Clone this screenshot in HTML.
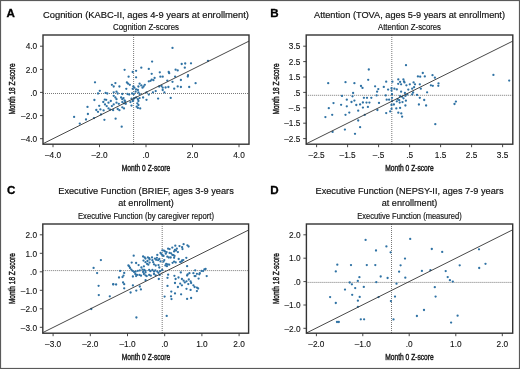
<!DOCTYPE html><html><head><meta charset="utf-8"><style>
html,body{margin:0;padding:0;background:#fff;}
svg{display:block;filter:blur(0.25px);font-family:"Liberation Sans", sans-serif;}
.t{stroke:#111;stroke-width:0.18px;} .s{stroke:#111;stroke-width:0.15px;} .k{stroke:#111;stroke-width:0.1px;} .L{stroke:#000;stroke-width:0.3px;} .ax{stroke:#1a1a1a;stroke-width:0.45px;}
</style></head><body>
<svg width="520" height="369" viewBox="0 0 520 369">
<rect x="0" y="0" width="520" height="369" fill="#fff"/>
<text class="L" x="6.6" y="17.0" font-size="11.6" text-anchor="start" font-weight="bold" fill="#000">A</text>
<text class="t" x="146" y="17.5" font-size="9.7" text-anchor="middle" font-weight="normal" fill="#111" textLength="206" lengthAdjust="spacingAndGlyphs">Cognition (KABC-II, ages 4-9 years at enrollment)</text>
<text class="s" x="146" y="29.7" font-size="8.4" text-anchor="middle" font-weight="normal" fill="#111" textLength="66" lengthAdjust="spacingAndGlyphs">Cognition Z-scores</text>
<line x1="43" y1="93.5" x2="249" y2="93.5" stroke="#555" stroke-width="0.8" stroke-dasharray="1 1"/>
<line x1="133.6" y1="35" x2="133.6" y2="144.2" stroke="#555" stroke-width="0.8" stroke-dasharray="1 1"/>
<g fill="#2f72a4">
<circle cx="172.5" cy="47.9" r="1.15"/>
<circle cx="152.1" cy="61.6" r="1.15"/>
<circle cx="124.6" cy="69.8" r="1.15"/>
<circle cx="132.7" cy="72.0" r="1.15"/>
<circle cx="136.1" cy="70.8" r="1.15"/>
<circle cx="141.3" cy="67.7" r="1.15"/>
<circle cx="148.8" cy="68.9" r="1.15"/>
<circle cx="151.7" cy="73.8" r="1.15"/>
<circle cx="159.8" cy="72.3" r="1.15"/>
<circle cx="168.7" cy="72.0" r="1.15"/>
<circle cx="169.2" cy="73.2" r="1.15"/>
<circle cx="175.6" cy="69.7" r="1.15"/>
<circle cx="177.7" cy="70.4" r="1.15"/>
<circle cx="181.7" cy="64.0" r="1.15"/>
<circle cx="185.2" cy="63.5" r="1.15"/>
<circle cx="191.0" cy="63.3" r="1.15"/>
<circle cx="184.8" cy="67.7" r="1.15"/>
<circle cx="208.0" cy="60.8" r="1.15"/>
<circle cx="188.0" cy="75.2" r="1.15"/>
<circle cx="95.0" cy="82.3" r="1.15"/>
<circle cx="99.8" cy="90.8" r="1.15"/>
<circle cx="98.0" cy="93.5" r="1.15"/>
<circle cx="94.4" cy="100.0" r="1.15"/>
<circle cx="104.8" cy="99.6" r="1.15"/>
<circle cx="103.3" cy="102.0" r="1.15"/>
<circle cx="99.2" cy="105.8" r="1.15"/>
<circle cx="87.5" cy="106.9" r="1.15"/>
<circle cx="96.3" cy="110.0" r="1.15"/>
<circle cx="100.4" cy="109.4" r="1.15"/>
<circle cx="103.6" cy="110.4" r="1.15"/>
<circle cx="175.1" cy="76.6" r="1.15"/>
<circle cx="165.6" cy="87.5" r="1.15"/>
<circle cx="168.4" cy="87.0" r="1.15"/>
<circle cx="167.3" cy="80.6" r="1.15"/>
<circle cx="172.5" cy="81.8" r="1.15"/>
<circle cx="174.2" cy="88.7" r="1.15"/>
<circle cx="177.7" cy="86.4" r="1.15"/>
<circle cx="170.7" cy="97.9" r="1.15"/>
<circle cx="187.8" cy="76.6" r="1.15"/>
<circle cx="180.9" cy="80.0" r="1.15"/>
<circle cx="195.6" cy="83.2" r="1.15"/>
<circle cx="180.9" cy="87.0" r="1.15"/>
<circle cx="189.2" cy="87.0" r="1.15"/>
<circle cx="74.1" cy="116.9" r="1.15"/>
<circle cx="87.9" cy="114.0" r="1.15"/>
<circle cx="86.0" cy="119.5" r="1.15"/>
<circle cx="79.8" cy="123.6" r="1.15"/>
<circle cx="94.0" cy="118.1" r="1.15"/>
<circle cx="104.4" cy="119.8" r="1.15"/>
<circle cx="115.6" cy="118.7" r="1.15"/>
<circle cx="101.0" cy="114.4" r="1.15"/>
<circle cx="98.0" cy="111.8" r="1.15"/>
<circle cx="121.7" cy="126.7" r="1.15"/>
<circle cx="128.6" cy="76.7" r="1.15"/>
<circle cx="136.1" cy="77.3" r="1.15"/>
<circle cx="111.9" cy="84.8" r="1.15"/>
<circle cx="113.7" cy="86.5" r="1.15"/>
<circle cx="115.4" cy="83.1" r="1.15"/>
<circle cx="119.4" cy="86.5" r="1.15"/>
<circle cx="126.9" cy="82.5" r="1.15"/>
<circle cx="128.1" cy="83.7" r="1.15"/>
<circle cx="126.3" cy="88.8" r="1.15"/>
<circle cx="129.8" cy="84.8" r="1.15"/>
<circle cx="133.3" cy="86.5" r="1.15"/>
<circle cx="132.7" cy="88.8" r="1.15"/>
<circle cx="134.4" cy="87.7" r="1.15"/>
<circle cx="136.1" cy="89.4" r="1.15"/>
<circle cx="137.9" cy="90.0" r="1.15"/>
<circle cx="135.6" cy="91.7" r="1.15"/>
<circle cx="138.4" cy="92.3" r="1.15"/>
<circle cx="139.6" cy="94.0" r="1.15"/>
<circle cx="141.3" cy="85.4" r="1.15"/>
<circle cx="142.5" cy="87.7" r="1.15"/>
<circle cx="143.6" cy="86.5" r="1.15"/>
<circle cx="144.8" cy="84.8" r="1.15"/>
<circle cx="148.8" cy="81.3" r="1.15"/>
<circle cx="150.6" cy="80.8" r="1.15"/>
<circle cx="151.7" cy="79.6" r="1.15"/>
<circle cx="154.6" cy="77.9" r="1.15"/>
<circle cx="153.4" cy="80.2" r="1.15"/>
<circle cx="139.6" cy="83.7" r="1.15"/>
<circle cx="138.4" cy="86.5" r="1.15"/>
<circle cx="160.4" cy="76.7" r="1.15"/>
<circle cx="162.7" cy="76.7" r="1.15"/>
<circle cx="159.2" cy="86.5" r="1.15"/>
<circle cx="161.5" cy="86.0" r="1.15"/>
<circle cx="162.7" cy="87.7" r="1.15"/>
<circle cx="155.7" cy="91.1" r="1.15"/>
<circle cx="152.9" cy="92.3" r="1.15"/>
<circle cx="146.5" cy="92.3" r="1.15"/>
<circle cx="148.8" cy="94.6" r="1.15"/>
<circle cx="143.1" cy="97.5" r="1.15"/>
<circle cx="146.5" cy="99.8" r="1.15"/>
<circle cx="158.1" cy="98.6" r="1.15"/>
<circle cx="162.7" cy="90.0" r="1.15"/>
<circle cx="164.4" cy="92.3" r="1.15"/>
<circle cx="105.6" cy="92.9" r="1.15"/>
<circle cx="107.3" cy="93.5" r="1.15"/>
<circle cx="113.7" cy="92.3" r="1.15"/>
<circle cx="116.5" cy="91.7" r="1.15"/>
<circle cx="117.7" cy="93.5" r="1.15"/>
<circle cx="122.3" cy="94.0" r="1.15"/>
<circle cx="127.5" cy="94.0" r="1.15"/>
<circle cx="129.2" cy="94.6" r="1.15"/>
<circle cx="132.1" cy="93.5" r="1.15"/>
<circle cx="133.8" cy="94.0" r="1.15"/>
<circle cx="113.7" cy="95.8" r="1.15"/>
<circle cx="115.4" cy="97.5" r="1.15"/>
<circle cx="116.5" cy="99.2" r="1.15"/>
<circle cx="121.1" cy="97.5" r="1.15"/>
<circle cx="122.3" cy="99.2" r="1.15"/>
<circle cx="123.5" cy="98.1" r="1.15"/>
<circle cx="124.6" cy="100.4" r="1.15"/>
<circle cx="131.5" cy="98.6" r="1.15"/>
<circle cx="133.3" cy="99.8" r="1.15"/>
<circle cx="134.4" cy="98.1" r="1.15"/>
<circle cx="136.1" cy="97.5" r="1.15"/>
<circle cx="137.9" cy="99.2" r="1.15"/>
<circle cx="138.4" cy="101.0" r="1.15"/>
<circle cx="139.6" cy="98.1" r="1.15"/>
<circle cx="106.2" cy="99.8" r="1.15"/>
<circle cx="108.5" cy="102.7" r="1.15"/>
<circle cx="110.8" cy="101.0" r="1.15"/>
<circle cx="113.7" cy="104.4" r="1.15"/>
<circle cx="111.9" cy="106.1" r="1.15"/>
<circle cx="116.5" cy="102.7" r="1.15"/>
<circle cx="118.8" cy="103.8" r="1.15"/>
<circle cx="122.3" cy="102.1" r="1.15"/>
<circle cx="124.0" cy="103.3" r="1.15"/>
<circle cx="125.8" cy="103.8" r="1.15"/>
<circle cx="125.2" cy="101.5" r="1.15"/>
<circle cx="130.4" cy="102.1" r="1.15"/>
<circle cx="132.7" cy="101.0" r="1.15"/>
<circle cx="137.3" cy="103.3" r="1.15"/>
<circle cx="138.4" cy="105.0" r="1.15"/>
<circle cx="136.7" cy="106.7" r="1.15"/>
<circle cx="137.9" cy="107.9" r="1.15"/>
<circle cx="131.5" cy="105.6" r="1.15"/>
<circle cx="108.5" cy="108.4" r="1.15"/>
<circle cx="110.2" cy="109.6" r="1.15"/>
<circle cx="113.1" cy="110.2" r="1.15"/>
<circle cx="117.7" cy="109.0" r="1.15"/>
<circle cx="119.4" cy="110.2" r="1.15"/>
<circle cx="122.3" cy="107.3" r="1.15"/>
<circle cx="124.0" cy="108.4" r="1.15"/>
<circle cx="140.2" cy="108.4" r="1.15"/>
<circle cx="105.0" cy="104.4" r="1.15"/>
<circle cx="106.7" cy="106.1" r="1.15"/>
</g>
<line x1="43" y1="143.7" x2="249" y2="41.1" stroke="#333" stroke-width="0.9"/>
<rect x="43" y="35" width="206.0" height="109.2" fill="none" stroke="#333" stroke-width="1.4"/>
<line x1="53" y1="144.2" x2="53" y2="147.2" stroke="#333" stroke-width="0.9"/>
<text class="k" transform="translate(53,157.8) scale(1,1.06)" font-size="8.3" text-anchor="middle" fill="#111">–4.0</text>
<line x1="99.5" y1="144.2" x2="99.5" y2="147.2" stroke="#333" stroke-width="0.9"/>
<text class="k" transform="translate(99.5,157.8) scale(1,1.06)" font-size="8.3" text-anchor="middle" fill="#111">–2.0</text>
<line x1="146" y1="144.2" x2="146" y2="147.2" stroke="#333" stroke-width="0.9"/>
<text class="k" transform="translate(146,157.8) scale(1,1.06)" font-size="8.3" text-anchor="middle" fill="#111">.0</text>
<line x1="192.5" y1="144.2" x2="192.5" y2="147.2" stroke="#333" stroke-width="0.9"/>
<text class="k" transform="translate(192.5,157.8) scale(1,1.06)" font-size="8.3" text-anchor="middle" fill="#111">2.0</text>
<line x1="239" y1="144.2" x2="239" y2="147.2" stroke="#333" stroke-width="0.9"/>
<text class="k" transform="translate(239,157.8) scale(1,1.06)" font-size="8.3" text-anchor="middle" fill="#111">4.0</text>
<line x1="40" y1="46.2" x2="43" y2="46.2" stroke="#333" stroke-width="0.9"/>
<text class="k" transform="translate(37.2,49.4) scale(1,1.06)" font-size="8.3" text-anchor="end" fill="#111">4.0</text>
<line x1="40" y1="69.4" x2="43" y2="69.4" stroke="#333" stroke-width="0.9"/>
<text class="k" transform="translate(37.2,72.6) scale(1,1.06)" font-size="8.3" text-anchor="end" fill="#111">2.0</text>
<line x1="40" y1="92.4" x2="43" y2="92.4" stroke="#333" stroke-width="0.9"/>
<text class="k" transform="translate(37.2,95.6) scale(1,1.06)" font-size="8.3" text-anchor="end" fill="#111">.0</text>
<line x1="40" y1="115.6" x2="43" y2="115.6" stroke="#333" stroke-width="0.9"/>
<text class="k" transform="translate(37.2,118.8) scale(1,1.06)" font-size="8.3" text-anchor="end" fill="#111">–2.0</text>
<line x1="40" y1="138.7" x2="43" y2="138.7" stroke="#333" stroke-width="0.9"/>
<text class="k" transform="translate(37.2,141.9) scale(1,1.06)" font-size="8.3" text-anchor="end" fill="#111">–4.0</text>
<text class="ax" x="146" y="171.0" font-size="9.6" text-anchor="middle" font-weight="normal" fill="#1a1a1a" textLength="48.5" lengthAdjust="spacingAndGlyphs">Month 0 Z-score</text>
<text class="ax" transform="translate(14.8,89.0) rotate(-90)" x="0" y="0" font-size="9.6" text-anchor="middle" font-weight="normal" fill="#1a1a1a" textLength="51" lengthAdjust="spacingAndGlyphs">Month 18 Z-score</text>
<text class="L" x="270.3" y="17.0" font-size="11.6" text-anchor="start" font-weight="bold" fill="#000">B</text>
<text class="t" x="409.5" y="17.5" font-size="9.7" text-anchor="middle" font-weight="normal" fill="#111" textLength="191" lengthAdjust="spacingAndGlyphs">Attention (TOVA, ages 5-9 years at enrollment)</text>
<text class="s" x="409.5" y="29.7" font-size="8.4" text-anchor="middle" font-weight="normal" fill="#111" textLength="63" lengthAdjust="spacingAndGlyphs">Attention Z-scores</text>
<line x1="306.2" y1="95.3" x2="512.8" y2="95.3" stroke="#555" stroke-width="0.8" stroke-dasharray="1 1"/>
<line x1="391.8" y1="35" x2="391.8" y2="144.2" stroke="#555" stroke-width="0.8" stroke-dasharray="1 1"/>
<g fill="#2f72a4">
<circle cx="406.0" cy="65.2" r="1.15"/>
<circle cx="422.8" cy="73.0" r="1.15"/>
<circle cx="417.9" cy="76.4" r="1.15"/>
<circle cx="420.2" cy="76.7" r="1.15"/>
<circle cx="424.8" cy="76.4" r="1.15"/>
<circle cx="398.3" cy="79.4" r="1.15"/>
<circle cx="403.4" cy="79.4" r="1.15"/>
<circle cx="432.5" cy="75.2" r="1.15"/>
<circle cx="434.9" cy="77.7" r="1.15"/>
<circle cx="438.5" cy="83.4" r="1.15"/>
<circle cx="493.4" cy="74.9" r="1.15"/>
<circle cx="509.2" cy="80.6" r="1.15"/>
<circle cx="368.8" cy="69.5" r="1.15"/>
<circle cx="368.2" cy="79.8" r="1.15"/>
<circle cx="386.2" cy="81.7" r="1.15"/>
<circle cx="392.4" cy="81.7" r="1.15"/>
<circle cx="400.1" cy="81.9" r="1.15"/>
<circle cx="404.0" cy="81.4" r="1.15"/>
<circle cx="404.5" cy="82.4" r="1.15"/>
<circle cx="398.2" cy="83.8" r="1.15"/>
<circle cx="401.1" cy="84.3" r="1.15"/>
<circle cx="406.4" cy="85.3" r="1.15"/>
<circle cx="409.8" cy="84.3" r="1.15"/>
<circle cx="413.6" cy="82.4" r="1.15"/>
<circle cx="415.0" cy="84.3" r="1.15"/>
<circle cx="375.1" cy="86.3" r="1.15"/>
<circle cx="383.8" cy="86.9" r="1.15"/>
<circle cx="378.3" cy="89.1" r="1.15"/>
<circle cx="388.1" cy="89.6" r="1.15"/>
<circle cx="391.5" cy="88.2" r="1.15"/>
<circle cx="394.4" cy="88.7" r="1.15"/>
<circle cx="396.8" cy="89.4" r="1.15"/>
<circle cx="391.5" cy="90.6" r="1.15"/>
<circle cx="377.1" cy="91.7" r="1.15"/>
<circle cx="401.1" cy="91.7" r="1.15"/>
<circle cx="408.3" cy="89.6" r="1.15"/>
<circle cx="412.2" cy="88.7" r="1.15"/>
<circle cx="414.1" cy="87.2" r="1.15"/>
<circle cx="404.9" cy="93.0" r="1.15"/>
<circle cx="407.3" cy="94.4" r="1.15"/>
<circle cx="413.1" cy="92.5" r="1.15"/>
<circle cx="412.2" cy="94.4" r="1.15"/>
<circle cx="392.0" cy="94.2" r="1.15"/>
<circle cx="376.6" cy="95.4" r="1.15"/>
<circle cx="385.7" cy="95.4" r="1.15"/>
<circle cx="367.0" cy="97.8" r="1.15"/>
<circle cx="371.3" cy="97.8" r="1.15"/>
<circle cx="400.1" cy="96.2" r="1.15"/>
<circle cx="402.1" cy="96.8" r="1.15"/>
<circle cx="403.5" cy="98.3" r="1.15"/>
<circle cx="405.4" cy="95.9" r="1.15"/>
<circle cx="386.7" cy="99.7" r="1.15"/>
<circle cx="389.1" cy="99.7" r="1.15"/>
<circle cx="392.0" cy="97.8" r="1.15"/>
<circle cx="397.7" cy="99.2" r="1.15"/>
<circle cx="399.2" cy="100.2" r="1.15"/>
<circle cx="392.0" cy="101.2" r="1.15"/>
<circle cx="396.8" cy="101.3" r="1.15"/>
<circle cx="405.9" cy="100.7" r="1.15"/>
<circle cx="402.5" cy="102.1" r="1.15"/>
<circle cx="399.7" cy="102.6" r="1.15"/>
<circle cx="366.5" cy="102.6" r="1.15"/>
<circle cx="369.4" cy="102.6" r="1.15"/>
<circle cx="379.0" cy="102.9" r="1.15"/>
<circle cx="391.5" cy="105.0" r="1.15"/>
<circle cx="393.9" cy="104.5" r="1.15"/>
<circle cx="405.4" cy="105.5" r="1.15"/>
<circle cx="367.9" cy="106.9" r="1.15"/>
<circle cx="396.3" cy="108.4" r="1.15"/>
<circle cx="400.1" cy="107.9" r="1.15"/>
<circle cx="391.5" cy="108.8" r="1.15"/>
<circle cx="419.8" cy="84.3" r="1.15"/>
<circle cx="420.8" cy="88.7" r="1.15"/>
<circle cx="430.9" cy="85.3" r="1.15"/>
<circle cx="432.8" cy="85.8" r="1.15"/>
<circle cx="438.3" cy="85.8" r="1.15"/>
<circle cx="427.1" cy="92.3" r="1.15"/>
<circle cx="417.0" cy="94.9" r="1.15"/>
<circle cx="419.8" cy="97.8" r="1.15"/>
<circle cx="424.2" cy="100.0" r="1.15"/>
<circle cx="418.9" cy="104.5" r="1.15"/>
<circle cx="426.1" cy="105.5" r="1.15"/>
<circle cx="455.9" cy="101.6" r="1.15"/>
<circle cx="454.5" cy="104.0" r="1.15"/>
<circle cx="328.2" cy="83.2" r="1.15"/>
<circle cx="345.5" cy="82.2" r="1.15"/>
<circle cx="354.4" cy="83.2" r="1.15"/>
<circle cx="361.0" cy="86.0" r="1.15"/>
<circle cx="362.5" cy="87.9" r="1.15"/>
<circle cx="353.1" cy="93.0" r="1.15"/>
<circle cx="342.0" cy="95.9" r="1.15"/>
<circle cx="352.5" cy="96.3" r="1.15"/>
<circle cx="346.8" cy="99.7" r="1.15"/>
<circle cx="333.5" cy="103.1" r="1.15"/>
<circle cx="341.1" cy="104.8" r="1.15"/>
<circle cx="351.5" cy="102.0" r="1.15"/>
<circle cx="354.4" cy="100.6" r="1.15"/>
<circle cx="356.3" cy="105.0" r="1.15"/>
<circle cx="328.8" cy="108.2" r="1.15"/>
<circle cx="346.8" cy="106.3" r="1.15"/>
<circle cx="358.2" cy="110.7" r="1.15"/>
<circle cx="349.3" cy="112.6" r="1.15"/>
<circle cx="345.5" cy="114.8" r="1.15"/>
<circle cx="332.2" cy="114.8" r="1.15"/>
<circle cx="325.4" cy="117.1" r="1.15"/>
<circle cx="358.2" cy="120.5" r="1.15"/>
<circle cx="360.1" cy="127.2" r="1.15"/>
<circle cx="344.9" cy="129.6" r="1.15"/>
<circle cx="332.6" cy="131.9" r="1.15"/>
<circle cx="355.0" cy="133.8" r="1.15"/>
<circle cx="362.9" cy="102.5" r="1.15"/>
<circle cx="363.9" cy="97.8" r="1.15"/>
<circle cx="360.1" cy="104.4" r="1.15"/>
<circle cx="362.9" cy="107.6" r="1.15"/>
<circle cx="364.8" cy="114.8" r="1.15"/>
<circle cx="377.4" cy="110.0" r="1.15"/>
<circle cx="386.2" cy="113.1" r="1.15"/>
<circle cx="390.2" cy="111.4" r="1.15"/>
<circle cx="398.3" cy="112.7" r="1.15"/>
<circle cx="401.3" cy="113.4" r="1.15"/>
<circle cx="402.1" cy="116.7" r="1.15"/>
<circle cx="435.3" cy="124.2" r="1.15"/>
</g>
<line x1="306.2" y1="143.8" x2="512.8" y2="41.1" stroke="#333" stroke-width="0.9"/>
<rect x="306.2" y="35" width="206.6" height="109.2" fill="none" stroke="#333" stroke-width="1.4"/>
<line x1="316.6" y1="144.2" x2="316.6" y2="147.2" stroke="#333" stroke-width="0.9"/>
<text class="k" transform="translate(316.6,157.8) scale(1,1.06)" font-size="8.3" text-anchor="middle" fill="#111">–2.5</text>
<line x1="347.6" y1="144.2" x2="347.6" y2="147.2" stroke="#333" stroke-width="0.9"/>
<text class="k" transform="translate(347.6,157.8) scale(1,1.06)" font-size="8.3" text-anchor="middle" fill="#111">–1.5</text>
<line x1="378.6" y1="144.2" x2="378.6" y2="147.2" stroke="#333" stroke-width="0.9"/>
<text class="k" transform="translate(378.6,157.8) scale(1,1.06)" font-size="8.3" text-anchor="middle" fill="#111">–.5</text>
<line x1="409.6" y1="144.2" x2="409.6" y2="147.2" stroke="#333" stroke-width="0.9"/>
<text class="k" transform="translate(409.6,157.8) scale(1,1.06)" font-size="8.3" text-anchor="middle" fill="#111">.5</text>
<line x1="440.6" y1="144.2" x2="440.6" y2="147.2" stroke="#333" stroke-width="0.9"/>
<text class="k" transform="translate(440.6,157.8) scale(1,1.06)" font-size="8.3" text-anchor="middle" fill="#111">1.5</text>
<line x1="471.6" y1="144.2" x2="471.6" y2="147.2" stroke="#333" stroke-width="0.9"/>
<text class="k" transform="translate(471.6,157.8) scale(1,1.06)" font-size="8.3" text-anchor="middle" fill="#111">2.5</text>
<line x1="502.6" y1="144.2" x2="502.6" y2="147.2" stroke="#333" stroke-width="0.9"/>
<text class="k" transform="translate(502.6,157.8) scale(1,1.06)" font-size="8.3" text-anchor="middle" fill="#111">3.5</text>
<line x1="303.2" y1="46.2" x2="306.2" y2="46.2" stroke="#333" stroke-width="0.9"/>
<text class="k" transform="translate(300.4,49.4) scale(1,1.06)" font-size="8.3" text-anchor="end" fill="#111">3.5</text>
<line x1="303.2" y1="61.6" x2="306.2" y2="61.6" stroke="#333" stroke-width="0.9"/>
<text class="k" transform="translate(300.4,64.8) scale(1,1.06)" font-size="8.3" text-anchor="end" fill="#111">2.5</text>
<line x1="303.2" y1="77.0" x2="306.2" y2="77.0" stroke="#333" stroke-width="0.9"/>
<text class="k" transform="translate(300.4,80.2) scale(1,1.06)" font-size="8.3" text-anchor="end" fill="#111">1.5</text>
<line x1="303.2" y1="92.4" x2="306.2" y2="92.4" stroke="#333" stroke-width="0.9"/>
<text class="k" transform="translate(300.4,95.6) scale(1,1.06)" font-size="8.3" text-anchor="end" fill="#111">.5</text>
<line x1="303.2" y1="107.8" x2="306.2" y2="107.8" stroke="#333" stroke-width="0.9"/>
<text class="k" transform="translate(300.4,111.0) scale(1,1.06)" font-size="8.3" text-anchor="end" fill="#111">–.5</text>
<line x1="303.2" y1="123.2" x2="306.2" y2="123.2" stroke="#333" stroke-width="0.9"/>
<text class="k" transform="translate(300.4,126.4) scale(1,1.06)" font-size="8.3" text-anchor="end" fill="#111">–1.5</text>
<line x1="303.2" y1="138.6" x2="306.2" y2="138.6" stroke="#333" stroke-width="0.9"/>
<text class="k" transform="translate(300.4,141.8) scale(1,1.06)" font-size="8.3" text-anchor="end" fill="#111">–2.5</text>
<text class="ax" x="409.5" y="171.0" font-size="9.6" text-anchor="middle" font-weight="normal" fill="#1a1a1a" textLength="48.5" lengthAdjust="spacingAndGlyphs">Month 0 Z-score</text>
<text class="ax" transform="translate(278.7,89.0) rotate(-90)" x="0" y="0" font-size="9.6" text-anchor="middle" font-weight="normal" fill="#1a1a1a" textLength="51" lengthAdjust="spacingAndGlyphs">Month 18 Z-score</text>
<text class="L" x="6.9" y="193.7" font-size="11.6" text-anchor="start" font-weight="bold" fill="#000">C</text>
<text class="t" x="146" y="194.2" font-size="9.7" text-anchor="middle" font-weight="normal" fill="#111" textLength="175.5" lengthAdjust="spacingAndGlyphs">Executive Function (BRIEF, ages 3-9 years</text>
<text class="t" x="146" y="206.0" font-size="9.7" text-anchor="middle" font-weight="normal" fill="#111" textLength="55.5" lengthAdjust="spacingAndGlyphs">at enrollment)</text>
<text class="s" x="146" y="218.7" font-size="8.4" text-anchor="middle" font-weight="normal" fill="#111" textLength="136" lengthAdjust="spacingAndGlyphs">Executive Function (by caregiver report)</text>
<line x1="42.8" y1="270.6" x2="248.6" y2="270.6" stroke="#555" stroke-width="0.8" stroke-dasharray="1 1"/>
<line x1="162.2" y1="224" x2="162.2" y2="333.2" stroke="#555" stroke-width="0.8" stroke-dasharray="1 1"/>
<g fill="#2f72a4">
<circle cx="120.1" cy="270.9" r="1.15"/>
<circle cx="124.2" cy="272.9" r="1.15"/>
<circle cx="123.5" cy="275.6" r="1.15"/>
<circle cx="180.8" cy="272.4" r="1.15"/>
<circle cx="187.7" cy="274.3" r="1.15"/>
<circle cx="189.4" cy="273.2" r="1.15"/>
<circle cx="187.1" cy="275.5" r="1.15"/>
<circle cx="193.4" cy="273.2" r="1.15"/>
<circle cx="195.2" cy="270.3" r="1.15"/>
<circle cx="196.9" cy="273.8" r="1.15"/>
<circle cx="194.6" cy="276.1" r="1.15"/>
<circle cx="199.8" cy="273.2" r="1.15"/>
<circle cx="201.5" cy="270.9" r="1.15"/>
<circle cx="204.4" cy="269.4" r="1.15"/>
<circle cx="205.6" cy="268.9" r="1.15"/>
<circle cx="206.7" cy="276.1" r="1.15"/>
<circle cx="198.6" cy="278.6" r="1.15"/>
<circle cx="168.1" cy="274.7" r="1.15"/>
<circle cx="167.5" cy="277.8" r="1.15"/>
<circle cx="174.4" cy="275.8" r="1.15"/>
<circle cx="178.5" cy="277.5" r="1.15"/>
<circle cx="175.6" cy="279.0" r="1.15"/>
<circle cx="181.9" cy="279.0" r="1.15"/>
<circle cx="183.6" cy="280.7" r="1.15"/>
<circle cx="184.8" cy="282.4" r="1.15"/>
<circle cx="186.5" cy="281.3" r="1.15"/>
<circle cx="188.8" cy="279.5" r="1.15"/>
<circle cx="190.6" cy="281.3" r="1.15"/>
<circle cx="191.1" cy="283.0" r="1.15"/>
<circle cx="175.0" cy="283.0" r="1.15"/>
<circle cx="180.2" cy="283.6" r="1.15"/>
<circle cx="181.9" cy="285.3" r="1.15"/>
<circle cx="188.3" cy="284.1" r="1.15"/>
<circle cx="167.5" cy="285.9" r="1.15"/>
<circle cx="177.9" cy="287.0" r="1.15"/>
<circle cx="193.4" cy="285.3" r="1.15"/>
<circle cx="194.6" cy="287.0" r="1.15"/>
<circle cx="196.9" cy="287.6" r="1.15"/>
<circle cx="198.1" cy="288.5" r="1.15"/>
<circle cx="186.5" cy="288.8" r="1.15"/>
<circle cx="190.6" cy="289.9" r="1.15"/>
<circle cx="196.9" cy="291.1" r="1.15"/>
<circle cx="171.3" cy="291.6" r="1.15"/>
<circle cx="175.0" cy="293.4" r="1.15"/>
<circle cx="181.1" cy="294.3" r="1.15"/>
<circle cx="164.6" cy="296.6" r="1.15"/>
<circle cx="171.0" cy="296.3" r="1.15"/>
<circle cx="171.5" cy="299.1" r="1.15"/>
<circle cx="187.1" cy="298.9" r="1.15"/>
<circle cx="191.1" cy="298.0" r="1.15"/>
<circle cx="203.1" cy="271.1" r="1.15"/>
<circle cx="199.3" cy="274.3" r="1.15"/>
<circle cx="195.5" cy="276.1" r="1.15"/>
<circle cx="119.0" cy="277.5" r="1.15"/>
<circle cx="122.5" cy="277.1" r="1.15"/>
<circle cx="158.8" cy="279.0" r="1.15"/>
<circle cx="145.6" cy="280.2" r="1.15"/>
<circle cx="113.3" cy="284.2" r="1.15"/>
<circle cx="116.1" cy="284.5" r="1.15"/>
<circle cx="123.1" cy="282.5" r="1.15"/>
<circle cx="124.2" cy="284.2" r="1.15"/>
<circle cx="124.2" cy="288.3" r="1.15"/>
<circle cx="132.9" cy="285.4" r="1.15"/>
<circle cx="139.8" cy="286.5" r="1.15"/>
<circle cx="140.9" cy="289.4" r="1.15"/>
<circle cx="136.3" cy="290.6" r="1.15"/>
<circle cx="130.6" cy="292.5" r="1.15"/>
<circle cx="109.8" cy="296.3" r="1.15"/>
<circle cx="100.9" cy="260.1" r="1.15"/>
<circle cx="93.6" cy="267.9" r="1.15"/>
<circle cx="97.1" cy="273.1" r="1.15"/>
<circle cx="98.6" cy="285.8" r="1.15"/>
<circle cx="113.2" cy="284.4" r="1.15"/>
<circle cx="98.8" cy="295.1" r="1.15"/>
<circle cx="91.3" cy="309.0" r="1.15"/>
<circle cx="136.4" cy="317.5" r="1.15"/>
<circle cx="166.7" cy="315.9" r="1.15"/>
<circle cx="133.7" cy="255.7" r="1.15"/>
<circle cx="131.7" cy="262.6" r="1.15"/>
<circle cx="136.1" cy="263.0" r="1.15"/>
<circle cx="138.6" cy="265.1" r="1.15"/>
<circle cx="141.4" cy="267.5" r="1.15"/>
<circle cx="143.9" cy="266.3" r="1.15"/>
<circle cx="143.1" cy="256.5" r="1.15"/>
<circle cx="144.7" cy="257.4" r="1.15"/>
<circle cx="145.5" cy="258.6" r="1.15"/>
<circle cx="147.9" cy="257.4" r="1.15"/>
<circle cx="149.2" cy="258.2" r="1.15"/>
<circle cx="149.6" cy="259.4" r="1.15"/>
<circle cx="143.5" cy="260.6" r="1.15"/>
<circle cx="145.5" cy="262.2" r="1.15"/>
<circle cx="147.5" cy="261.0" r="1.15"/>
<circle cx="147.1" cy="263.9" r="1.15"/>
<circle cx="148.3" cy="264.7" r="1.15"/>
<circle cx="149.6" cy="262.6" r="1.15"/>
<circle cx="152.0" cy="257.4" r="1.15"/>
<circle cx="152.4" cy="260.2" r="1.15"/>
<circle cx="153.2" cy="262.2" r="1.15"/>
<circle cx="154.9" cy="258.6" r="1.15"/>
<circle cx="156.1" cy="259.8" r="1.15"/>
<circle cx="156.9" cy="257.8" r="1.15"/>
<circle cx="158.1" cy="260.2" r="1.15"/>
<circle cx="159.3" cy="259.0" r="1.15"/>
<circle cx="157.3" cy="254.9" r="1.15"/>
<circle cx="160.5" cy="252.9" r="1.15"/>
<circle cx="161.4" cy="254.1" r="1.15"/>
<circle cx="160.5" cy="261.4" r="1.15"/>
<circle cx="154.0" cy="264.3" r="1.15"/>
<circle cx="155.7" cy="265.5" r="1.15"/>
<circle cx="158.5" cy="265.1" r="1.15"/>
<circle cx="159.3" cy="267.5" r="1.15"/>
<circle cx="129.2" cy="266.3" r="1.15"/>
<circle cx="130.0" cy="267.9" r="1.15"/>
<circle cx="131.3" cy="269.6" r="1.15"/>
<circle cx="132.5" cy="270.8" r="1.15"/>
<circle cx="134.1" cy="272.0" r="1.15"/>
<circle cx="135.7" cy="271.6" r="1.15"/>
<circle cx="137.8" cy="270.8" r="1.15"/>
<circle cx="139.8" cy="270.4" r="1.15"/>
<circle cx="142.6" cy="269.6" r="1.15"/>
<circle cx="144.3" cy="270.0" r="1.15"/>
<circle cx="145.5" cy="270.8" r="1.15"/>
<circle cx="143.1" cy="272.0" r="1.15"/>
<circle cx="145.5" cy="272.4" r="1.15"/>
<circle cx="149.2" cy="270.0" r="1.15"/>
<circle cx="150.4" cy="271.2" r="1.15"/>
<circle cx="152.4" cy="270.0" r="1.15"/>
<circle cx="154.0" cy="271.6" r="1.15"/>
<circle cx="155.3" cy="270.4" r="1.15"/>
<circle cx="157.3" cy="271.6" r="1.15"/>
<circle cx="158.5" cy="272.8" r="1.15"/>
<circle cx="160.1" cy="271.2" r="1.15"/>
<circle cx="162.2" cy="270.0" r="1.15"/>
<circle cx="135.3" cy="274.0" r="1.15"/>
<circle cx="137.0" cy="274.9" r="1.15"/>
<circle cx="136.1" cy="276.1" r="1.15"/>
<circle cx="139.4" cy="274.9" r="1.15"/>
<circle cx="141.0" cy="275.7" r="1.15"/>
<circle cx="143.9" cy="274.0" r="1.15"/>
<circle cx="145.5" cy="275.3" r="1.15"/>
<circle cx="146.7" cy="276.1" r="1.15"/>
<circle cx="149.2" cy="274.9" r="1.15"/>
<circle cx="150.8" cy="275.7" r="1.15"/>
<circle cx="154.0" cy="274.0" r="1.15"/>
<circle cx="155.7" cy="275.3" r="1.15"/>
<circle cx="159.7" cy="274.9" r="1.15"/>
<circle cx="132.9" cy="276.5" r="1.15"/>
<circle cx="128.4" cy="265.5" r="1.15"/>
<circle cx="183.6" cy="244.2" r="1.15"/>
<circle cx="187.4" cy="245.3" r="1.15"/>
<circle cx="188.6" cy="246.5" r="1.15"/>
<circle cx="179.5" cy="246.1" r="1.15"/>
<circle cx="175.3" cy="245.7" r="1.15"/>
<circle cx="182.1" cy="247.2" r="1.15"/>
<circle cx="182.5" cy="249.1" r="1.15"/>
<circle cx="172.3" cy="247.6" r="1.15"/>
<circle cx="168.1" cy="248.7" r="1.15"/>
<circle cx="169.6" cy="249.1" r="1.15"/>
<circle cx="176.8" cy="248.7" r="1.15"/>
<circle cx="174.9" cy="249.9" r="1.15"/>
<circle cx="176.0" cy="250.6" r="1.15"/>
<circle cx="174.1" cy="251.4" r="1.15"/>
<circle cx="177.9" cy="252.1" r="1.15"/>
<circle cx="162.4" cy="250.3" r="1.15"/>
<circle cx="163.9" cy="250.6" r="1.15"/>
<circle cx="165.0" cy="251.4" r="1.15"/>
<circle cx="166.6" cy="252.1" r="1.15"/>
<circle cx="165.8" cy="253.7" r="1.15"/>
<circle cx="169.6" cy="252.9" r="1.15"/>
<circle cx="171.1" cy="253.3" r="1.15"/>
<circle cx="172.3" cy="254.8" r="1.15"/>
<circle cx="173.4" cy="255.2" r="1.15"/>
<circle cx="174.5" cy="255.9" r="1.15"/>
<circle cx="162.4" cy="255.2" r="1.15"/>
<circle cx="163.5" cy="255.9" r="1.15"/>
<circle cx="167.3" cy="256.7" r="1.15"/>
<circle cx="168.8" cy="257.5" r="1.15"/>
<circle cx="170.7" cy="257.5" r="1.15"/>
<circle cx="174.1" cy="257.8" r="1.15"/>
<circle cx="164.3" cy="260.1" r="1.15"/>
<circle cx="163.5" cy="261.6" r="1.15"/>
<circle cx="178.7" cy="259.0" r="1.15"/>
<circle cx="186.3" cy="257.8" r="1.15"/>
<circle cx="182.1" cy="260.5" r="1.15"/>
<circle cx="183.3" cy="260.1" r="1.15"/>
<circle cx="180.2" cy="262.0" r="1.15"/>
<circle cx="181.7" cy="261.6" r="1.15"/>
<circle cx="174.1" cy="261.6" r="1.15"/>
<circle cx="175.7" cy="262.4" r="1.15"/>
<circle cx="172.6" cy="262.8" r="1.15"/>
<circle cx="166.2" cy="263.9" r="1.15"/>
<circle cx="167.7" cy="264.3" r="1.15"/>
<circle cx="169.2" cy="264.7" r="1.15"/>
<circle cx="165.4" cy="265.4" r="1.15"/>
<circle cx="166.9" cy="266.2" r="1.15"/>
<circle cx="187.1" cy="266.2" r="1.15"/>
</g>
<line x1="42.8" y1="332.6" x2="248.5" y2="230.1" stroke="#333" stroke-width="0.9"/>
<rect x="42.8" y="224" width="205.8" height="109.2" fill="none" stroke="#333" stroke-width="1.4"/>
<line x1="53.1" y1="333.2" x2="53.1" y2="336.2" stroke="#333" stroke-width="0.9"/>
<text class="k" transform="translate(53.1,346.8) scale(1,1.06)" font-size="8.3" text-anchor="middle" fill="#111">–3.0</text>
<line x1="90.3" y1="333.2" x2="90.3" y2="336.2" stroke="#333" stroke-width="0.9"/>
<text class="k" transform="translate(90.3,346.8) scale(1,1.06)" font-size="8.3" text-anchor="middle" fill="#111">–2.0</text>
<line x1="127.5" y1="333.2" x2="127.5" y2="336.2" stroke="#333" stroke-width="0.9"/>
<text class="k" transform="translate(127.5,346.8) scale(1,1.06)" font-size="8.3" text-anchor="middle" fill="#111">–1.0</text>
<line x1="164.7" y1="333.2" x2="164.7" y2="336.2" stroke="#333" stroke-width="0.9"/>
<text class="k" transform="translate(164.7,346.8) scale(1,1.06)" font-size="8.3" text-anchor="middle" fill="#111">.0</text>
<line x1="201.9" y1="333.2" x2="201.9" y2="336.2" stroke="#333" stroke-width="0.9"/>
<text class="k" transform="translate(201.9,346.8) scale(1,1.06)" font-size="8.3" text-anchor="middle" fill="#111">1.0</text>
<line x1="239.1" y1="333.2" x2="239.1" y2="336.2" stroke="#333" stroke-width="0.9"/>
<text class="k" transform="translate(239.1,346.8) scale(1,1.06)" font-size="8.3" text-anchor="middle" fill="#111">2.0</text>
<line x1="39.8" y1="234.8" x2="42.8" y2="234.8" stroke="#333" stroke-width="0.9"/>
<text class="k" transform="translate(37.0,238.0) scale(1,1.06)" font-size="8.3" text-anchor="end" fill="#111">2.0</text>
<line x1="39.8" y1="253.3" x2="42.8" y2="253.3" stroke="#333" stroke-width="0.9"/>
<text class="k" transform="translate(37.0,256.5) scale(1,1.06)" font-size="8.3" text-anchor="end" fill="#111">1.0</text>
<line x1="39.8" y1="271.8" x2="42.8" y2="271.8" stroke="#333" stroke-width="0.9"/>
<text class="k" transform="translate(37.0,275.0) scale(1,1.06)" font-size="8.3" text-anchor="end" fill="#111">.0</text>
<line x1="39.8" y1="290.3" x2="42.8" y2="290.3" stroke="#333" stroke-width="0.9"/>
<text class="k" transform="translate(37.0,293.5) scale(1,1.06)" font-size="8.3" text-anchor="end" fill="#111">–1.0</text>
<line x1="39.8" y1="308.8" x2="42.8" y2="308.8" stroke="#333" stroke-width="0.9"/>
<text class="k" transform="translate(37.0,312.0) scale(1,1.06)" font-size="8.3" text-anchor="end" fill="#111">–2.0</text>
<line x1="39.8" y1="327.3" x2="42.8" y2="327.3" stroke="#333" stroke-width="0.9"/>
<text class="k" transform="translate(37.0,330.5) scale(1,1.06)" font-size="8.3" text-anchor="end" fill="#111">–3.0</text>
<text class="ax" x="146" y="359.5" font-size="9.6" text-anchor="middle" font-weight="normal" fill="#1a1a1a" textLength="48.5" lengthAdjust="spacingAndGlyphs">Month 0 Z-score</text>
<text class="ax" transform="translate(14.9,278.6) rotate(-90)" x="0" y="0" font-size="9.6" text-anchor="middle" font-weight="normal" fill="#1a1a1a" textLength="51" lengthAdjust="spacingAndGlyphs">Month 18 Z-score</text>
<text class="L" x="270.3" y="193.7" font-size="11.6" text-anchor="start" font-weight="bold" fill="#000">D</text>
<text class="t" x="409.5" y="194.2" font-size="9.7" text-anchor="middle" font-weight="normal" fill="#111" textLength="188" lengthAdjust="spacingAndGlyphs">Executive Function (NEPSY-II, ages 7-9 years</text>
<text class="t" x="409.5" y="206.0" font-size="9.7" text-anchor="middle" font-weight="normal" fill="#111" textLength="55.5" lengthAdjust="spacingAndGlyphs">at enrollment)</text>
<text class="s" x="409.5" y="218.7" font-size="8.4" text-anchor="middle" font-weight="normal" fill="#111" textLength="104.4" lengthAdjust="spacingAndGlyphs">Executive Function (measured)</text>
<line x1="306.4" y1="282.4" x2="512.7" y2="282.4" stroke="#555" stroke-width="0.8" stroke-dasharray="1 1"/>
<line x1="391.5" y1="224" x2="391.5" y2="333.2" stroke="#555" stroke-width="0.8" stroke-dasharray="1 1"/>
<g fill="#2f72a4">
<circle cx="365.6" cy="239.9" r="1.15"/>
<circle cx="337.3" cy="264.7" r="1.15"/>
<circle cx="351.0" cy="265.1" r="1.15"/>
<circle cx="366.8" cy="265.1" r="1.15"/>
<circle cx="375.3" cy="265.1" r="1.15"/>
<circle cx="335.8" cy="271.4" r="1.15"/>
<circle cx="359.4" cy="277.2" r="1.15"/>
<circle cx="410.2" cy="238.9" r="1.15"/>
<circle cx="386.4" cy="246.4" r="1.15"/>
<circle cx="376.0" cy="250.5" r="1.15"/>
<circle cx="390.6" cy="252.3" r="1.15"/>
<circle cx="431.8" cy="249.0" r="1.15"/>
<circle cx="405.0" cy="258.6" r="1.15"/>
<circle cx="400.6" cy="265.3" r="1.15"/>
<circle cx="399.1" cy="271.7" r="1.15"/>
<circle cx="421.9" cy="270.9" r="1.15"/>
<circle cx="430.4" cy="270.2" r="1.15"/>
<circle cx="380.7" cy="276.5" r="1.15"/>
<circle cx="387.6" cy="278.0" r="1.15"/>
<circle cx="405.3" cy="277.7" r="1.15"/>
<circle cx="442.2" cy="251.9" r="1.15"/>
<circle cx="479.0" cy="249.3" r="1.15"/>
<circle cx="459.7" cy="265.3" r="1.15"/>
<circle cx="485.5" cy="263.8" r="1.15"/>
<circle cx="479.2" cy="268.0" r="1.15"/>
<circle cx="445.7" cy="271.1" r="1.15"/>
<circle cx="447.7" cy="277.1" r="1.15"/>
<circle cx="357.8" cy="280.9" r="1.15"/>
<circle cx="349.7" cy="282.5" r="1.15"/>
<circle cx="351.9" cy="284.3" r="1.15"/>
<circle cx="345.0" cy="289.6" r="1.15"/>
<circle cx="355.2" cy="288.1" r="1.15"/>
<circle cx="363.8" cy="286.9" r="1.15"/>
<circle cx="352.2" cy="294.8" r="1.15"/>
<circle cx="359.7" cy="296.9" r="1.15"/>
<circle cx="330.1" cy="297.1" r="1.15"/>
<circle cx="357.9" cy="300.7" r="1.15"/>
<circle cx="335.8" cy="303.0" r="1.15"/>
<circle cx="357.9" cy="306.8" r="1.15"/>
<circle cx="337.0" cy="322.0" r="1.15"/>
<circle cx="338.8" cy="322.0" r="1.15"/>
<circle cx="360.8" cy="319.3" r="1.15"/>
<circle cx="364.1" cy="319.3" r="1.15"/>
<circle cx="376.3" cy="282.2" r="1.15"/>
<circle cx="396.5" cy="283.7" r="1.15"/>
<circle cx="378.6" cy="297.1" r="1.15"/>
<circle cx="395.0" cy="296.6" r="1.15"/>
<circle cx="390.9" cy="301.1" r="1.15"/>
<circle cx="424.0" cy="310.0" r="1.15"/>
<circle cx="416.9" cy="316.0" r="1.15"/>
<circle cx="393.5" cy="319.4" r="1.15"/>
<circle cx="434.8" cy="287.2" r="1.15"/>
<circle cx="435.6" cy="296.6" r="1.15"/>
<circle cx="449.9" cy="280.2" r="1.15"/>
<circle cx="452.8" cy="281.6" r="1.15"/>
<circle cx="457.6" cy="315.7" r="1.15"/>
<circle cx="451.1" cy="322.6" r="1.15"/>
</g>
<line x1="306.4" y1="333" x2="512.7" y2="229.8" stroke="#333" stroke-width="0.9"/>
<rect x="306.4" y="224" width="206.3" height="109.2" fill="none" stroke="#333" stroke-width="1.4"/>
<line x1="316.4" y1="333.2" x2="316.4" y2="336.2" stroke="#333" stroke-width="0.9"/>
<text class="k" transform="translate(316.4,346.8) scale(1,1.06)" font-size="8.3" text-anchor="middle" fill="#111">–2.0</text>
<line x1="362.8" y1="333.2" x2="362.8" y2="336.2" stroke="#333" stroke-width="0.9"/>
<text class="k" transform="translate(362.8,346.8) scale(1,1.06)" font-size="8.3" text-anchor="middle" fill="#111">–1.0</text>
<line x1="409.2" y1="333.2" x2="409.2" y2="336.2" stroke="#333" stroke-width="0.9"/>
<text class="k" transform="translate(409.2,346.8) scale(1,1.06)" font-size="8.3" text-anchor="middle" fill="#111">.0</text>
<line x1="455.8" y1="333.2" x2="455.8" y2="336.2" stroke="#333" stroke-width="0.9"/>
<text class="k" transform="translate(455.8,346.8) scale(1,1.06)" font-size="8.3" text-anchor="middle" fill="#111">1.0</text>
<line x1="502.3" y1="333.2" x2="502.3" y2="336.2" stroke="#333" stroke-width="0.9"/>
<text class="k" transform="translate(502.3,346.8) scale(1,1.06)" font-size="8.3" text-anchor="middle" fill="#111">2.0</text>
<line x1="303.4" y1="234.8" x2="306.4" y2="234.8" stroke="#333" stroke-width="0.9"/>
<text class="k" transform="translate(300.6,238.0) scale(1,1.06)" font-size="8.3" text-anchor="end" fill="#111">2.0</text>
<line x1="303.4" y1="258.2" x2="306.4" y2="258.2" stroke="#333" stroke-width="0.9"/>
<text class="k" transform="translate(300.6,261.4) scale(1,1.06)" font-size="8.3" text-anchor="end" fill="#111">1.0</text>
<line x1="303.4" y1="281.6" x2="306.4" y2="281.6" stroke="#333" stroke-width="0.9"/>
<text class="k" transform="translate(300.6,284.8) scale(1,1.06)" font-size="8.3" text-anchor="end" fill="#111">.0</text>
<line x1="303.4" y1="305.0" x2="306.4" y2="305.0" stroke="#333" stroke-width="0.9"/>
<text class="k" transform="translate(300.6,308.2) scale(1,1.06)" font-size="8.3" text-anchor="end" fill="#111">–1.0</text>
<line x1="303.4" y1="328.3" x2="306.4" y2="328.3" stroke="#333" stroke-width="0.9"/>
<text class="k" transform="translate(300.6,331.5) scale(1,1.06)" font-size="8.3" text-anchor="end" fill="#111">–2.0</text>
<text class="ax" x="409.5" y="359.5" font-size="9.6" text-anchor="middle" font-weight="normal" fill="#1a1a1a" textLength="48.5" lengthAdjust="spacingAndGlyphs">Month 0 Z-score</text>
<text class="ax" transform="translate(278.9,278.6) rotate(-90)" x="0" y="0" font-size="9.6" text-anchor="middle" font-weight="normal" fill="#1a1a1a" textLength="51" lengthAdjust="spacingAndGlyphs">Month 18 Z-score</text>
<rect x="0.5" y="0.5" width="519" height="368" fill="none" stroke="#5a5a5a" stroke-width="1.2"/>
</svg></body></html>
